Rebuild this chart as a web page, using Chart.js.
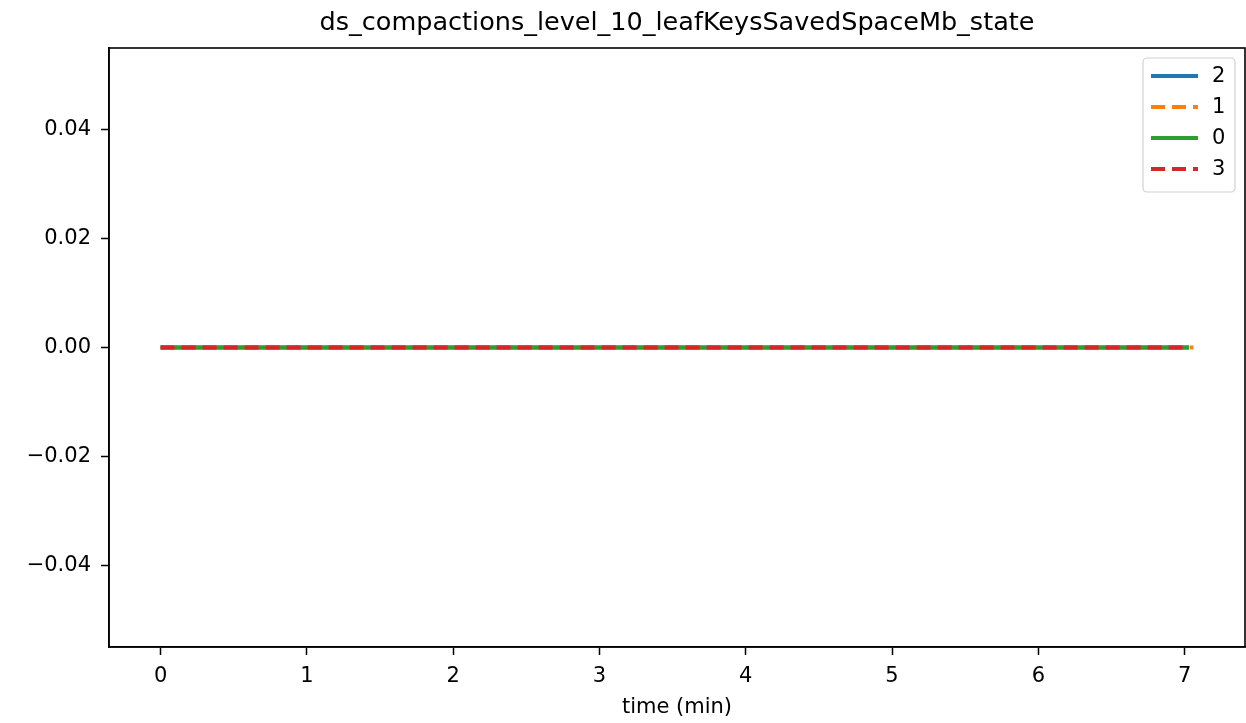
<!DOCTYPE html>
<html>
<head>
<meta charset="utf-8">
<script src="https://cdn.jsdelivr.net/npm/chart.js@4.4.1/dist/chart.umd.min.js"></script>
<style>
  html, body { margin: 0; padding: 0; background: #fff; }
  canvas { display: block; }
</style>
</head>
<body>
<canvas id="chart" width="1246" height="723"></canvas>
<script>
const chartTitle = 'ds_compactions_level_10_leafKeysSavedSpaceMb_state';
const xLabel = 'time (min)';

// series labels in legend order, and their values (all flat at zero)
const seriesNames = ['2', '1', '0', '3'];
const times2 = [0, 1, 2, 3, 4, 5, 6, 7, 7.03];
const values2 = [0, 0, 0, 0, 0, 0, 0, 0, 0];
const times1 = [0, 1, 2, 3, 4, 5, 6, 7, 7.06];
const values1 = [0, 0, 0, 0, 0, 0, 0, 0, 0];
const times0 = [0, 1, 2, 3, 4, 5, 6, 7, 7.03];
const values0 = [0, 0, 0, 0, 0, 0, 0, 0, 0];
const times3 = [0, 1, 2, 3, 4, 5, 6, 7, 7.0];
const values3 = [0, 0, 0, 0, 0, 0, 0, 0, 0];

const xTicks = [0, 1, 2, 3, 4, 5, 6, 7];
const yTicks = [-0.04, -0.02, 0, 0.02, 0.04];

const colors = ['#1f77b4', '#ff7f0e', '#2ca02c', '#d62728'];
const dashes = [[], [14, 7], [], [14, 7]];
const font = 'DejaVu Sans';

const toPoints = (xs, ys) => xs.map((x, i) => ({ x: x, y: ys[i] }));
const seriesData = [toPoints(times2, values2), toPoints(times1, values1), toPoints(times0, values0), toPoints(times3, values3)];

const datasets = seriesNames.map((name, i) => ({
    label: name,
    data: seriesData[i],
    borderColor: colors[i],
    borderWidth: 3.8,
    borderDash: dashes[i],
    pointRadius: 0,
    fill: false,
    tension: 0,
    order: 3 - i
}));

const fmtY = v => (v < 0 ? '\u2212' : '') + Math.abs(v).toFixed(2);

const framePlugin = {
    id: 'frame',
    afterDraw(chart) {
        const ctx = chart.ctx;
        const a = chart.chartArea;
        ctx.save();
        ctx.strokeStyle = '#000';
        ctx.lineWidth = 1.6;
        ctx.strokeRect(a.left, a.top, a.right - a.left, a.bottom - a.top);

        // title centred over the plot area
        ctx.fillStyle = '#000';
        ctx.font = '25.5px "' + font + '"';
        ctx.textAlign = 'center';
        ctx.textBaseline = 'middle';
        ctx.fillText(chartTitle, (a.left + a.right) / 2, 23);

        // legend in the upper right corner
        const bx = 1143, by = 58, bw = 92, bh = 134;
        ctx.fillStyle = 'rgba(255,255,255,0.85)';
        ctx.strokeStyle = '#d0d0d0';
        ctx.lineWidth = 1.2;
        ctx.beginPath();
        ctx.roundRect(bx, by, bw, bh, 4);
        ctx.fill();
        ctx.stroke();
        chart.data.datasets.forEach((ds, i) => {
            const y = 76 + i * 31;
            ctx.strokeStyle = ds.borderColor;
            ctx.lineWidth = ds.borderWidth;
            ctx.setLineDash(ds.borderDash);
            ctx.beginPath();
            ctx.moveTo(1151, y);
            ctx.lineTo(1198, y);
            ctx.stroke();
            ctx.setLineDash([]);
            ctx.fillStyle = '#000';
            ctx.font = '21px "' + font + '"';
            ctx.textAlign = 'left';
            ctx.fillText(ds.label, 1212, y + 1);
        });
        ctx.restore();
    }
};

new Chart(document.getElementById('chart').getContext('2d'), {
    type: 'line',
    data: { datasets: datasets },
    options: {
        responsive: false,
        animation: false,
        layout: { padding: { top: 48, right: 1, left: 0, bottom: 0 } },
        plugins: {
            legend: { display: false },
            title: { display: false },
            tooltip: { enabled: false }
        },
        scales: {
            x: {
                type: 'linear',
                min: -0.353,
                max: 7.413,
                afterBuildTicks: s => { s.ticks = xTicks.map(v => ({ value: v })); },
                afterFit: s => { s.height = 76; },
                grid: { display: true, drawOnChartArea: false, tickLength: 8, tickColor: '#000', tickWidth: 1.5 },
                border: { display: true, color: '#000', width: 1.6 },
                ticks: { color: '#000', font: { family: font, size: 21 }, padding: 9, maxRotation: 0,
                    callback: v => String(v) },
                title: { display: true, text: xLabel, color: '#000', font: { family: font, size: 21 }, padding: { top: 2, bottom: 3 } }
            },
            y: {
                type: 'linear',
                min: -0.055,
                max: 0.055,
                afterBuildTicks: s => { s.ticks = yTicks.map(v => ({ value: v })); },
                afterFit: s => { s.width = 109; },
                grid: { display: true, drawOnChartArea: false, tickLength: 8, tickColor: '#000', tickWidth: 1.5 },
                border: { display: true, color: '#000', width: 1.6 },
                ticks: { color: '#000', font: { family: font, size: 21 }, padding: 10, callback: v => fmtY(v) }
            }
        }
    },
    plugins: [framePlugin]
});
</script>
</body>
</html>
